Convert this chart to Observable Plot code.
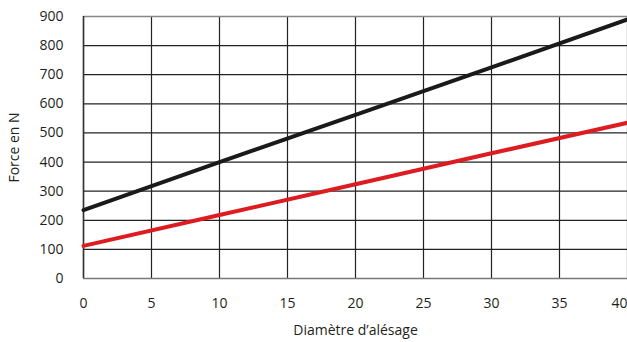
<!DOCTYPE html>
<html><head><meta charset="utf-8">
<script src="https://cdn.jsdelivr.net/npm/d3@7"></script>
<script src="https://cdn.jsdelivr.net/npm/@observablehq/plot@0.6"></script>
<style>
body{margin:0;background:#fff;}
svg{font-family:"Open Sans",sans-serif;}
</style>
</head><body>
<div id="chart"></div>
<script>
const diametre = [0, 10, 20, 30, 40];
const forceNoire = [235, 400, 562, 725, 890];
const forceRouge = [112, 218, 324, 430, 535];
const xTicks = [0, 5, 10, 15, 20, 25, 30, 35, 40];
const yTicks = [0, 100, 200, 300, 400, 500, 600, 700, 800, 900];

const noire = diametre.map((d, i) => ({x: d, y: forceNoire[i]}));
const rouge = diametre.map((d, i) => ({x: d, y: forceRouge[i]}));
const xTicksInner = xTicks.slice(0, -1);
const xTickLast = xTicks.slice(-1);

const chart = Plot.plot({
  width: 627,
  height: 342,
  marginLeft: 83,
  marginRight: 0,
  marginTop: 16,
  marginBottom: 64,
  style: {fontFamily: '"Open Sans", sans-serif', fontSize: "14px", color: "#231f20"},
  x: {domain: [0, 40], ticks: xTicks},
  y: {domain: [0, 900], ticks: yTicks},
  marks: [
    Plot.gridX(xTicks, {stroke: "#222", strokeOpacity: 1, strokeWidth: 1.2}),
    Plot.gridY(yTicks, {stroke: "#222", strokeOpacity: 1, strokeWidth: 1.2}),
    Plot.ruleY([0], {stroke: "#777", strokeWidth: 1.5}),
    Plot.ruleY([900], {stroke: "#888", strokeWidth: 1.5}),
    Plot.ruleX([0], {stroke: "#333", strokeWidth: 1.5}),
    Plot.line(noire, {x: "x", y: "y", stroke: "#1a1a1a", strokeWidth: 4}),
    Plot.line(rouge, {x: "x", y: "y", stroke: "#dc1c21", strokeWidth: 4}),
    Plot.axisX(xTicksInner, {tickSize: 0, tickPadding: 20, fontSize: 14, label: "Diamètre d’alésage", labelAnchor: "center", labelArrow: "none", labelOffset: 56}),
    Plot.axisX(xTickLast, {tickSize: 0, tickPadding: 20, fontSize: 14, textAnchor: "end", label: null}),
    Plot.axisY(yTicks, {tickSize: 0, tickPadding: 20, fontSize: 14, label: "Force en N", labelAnchor: "center", labelArrow: "none", labelOffset: 74})
  ]
});
document.getElementById("chart").appendChild(chart);
</script>
</body></html>
